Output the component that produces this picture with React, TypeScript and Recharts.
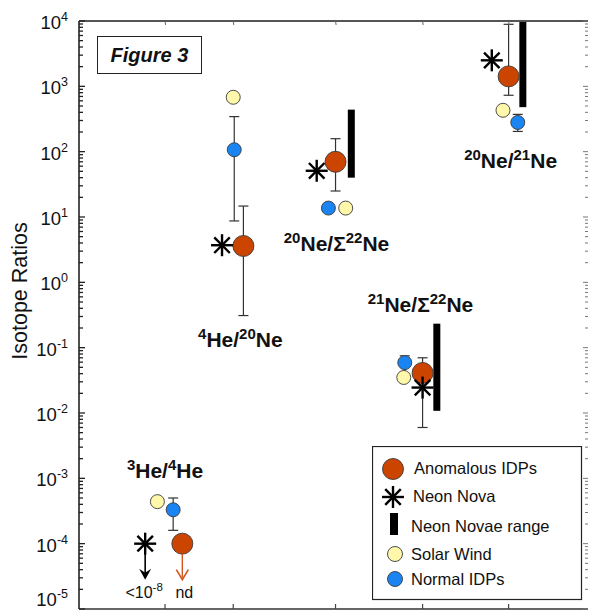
import React from 'react';
import { ScatterChart, Scatter, XAxis, YAxis, ErrorBar, Legend } from 'recharts';

const FONT = '"Liberation Sans", Arial, Helvetica, sans-serif';

// ---------- data ----------
const ratioNames = ['3He/4He', '4He/20Ne', '20Ne/Σ22Ne', '21Ne/Σ22Ne', '20Ne/21Ne'];
const categoryTicks = [16.9, 30.3, 50.4, 67.5, 84.4];
const decadeExponents = [-5, -4, -3, -2, -1, 0, 1, 2, 3, 4];

const anomalousIDPs = [
  { ratio: '3He/4He', x: 20.3, y: 1.0e-4 },
  { ratio: '4He/20Ne', x: 32.3, y: 3.6, lo: 0.31, hi: 14.7 },
  { ratio: '20Ne/Σ22Ne', x: 50.4, y: 70, lo: 25, hi: 158 },
  { ratio: '21Ne/Σ22Ne', x: 67.5, y: 0.041, lo: 0.006, hi: 0.07 },
  { ratio: '20Ne/21Ne', x: 84.4, y: 1420, lo: 730, hi: 8900 },
];

const neonNova = [
  { ratio: '3He/4He', x: 13.0, y: 1.0e-4 },
  { ratio: '4He/20Ne', x: 28.1, y: 3.7 },
  { ratio: '20Ne/Σ22Ne', x: 46.7, y: 51 },
  { ratio: '21Ne/Σ22Ne', x: 67.5, y: 0.0245 },
  { ratio: '20Ne/21Ne', x: 81.1, y: 2500 },
];

const neonNovaeRange = [
  { ratio: '20Ne/Σ22Ne', x: 53.5, lo: 40, hi: 440 },
  { ratio: '21Ne/Σ22Ne', x: 70.3, lo: 0.0108, hi: 0.233 },
  { ratio: '20Ne/21Ne', x: 87.2, lo: 480, hi: 9800 },
];

const solarWind = [
  { ratio: '3He/4He', x: 15.4, y: 4.4e-4 },
  { ratio: '4He/20Ne', x: 30.3, y: 680 },
  { ratio: '20Ne/Σ22Ne', x: 52.4, y: 13.7 },
  { ratio: '21Ne/Σ22Ne', x: 63.8, y: 0.035 },
  { ratio: '20Ne/21Ne', x: 83.3, y: 430 },
];

const normalIDPs = [
  { ratio: '3He/4He', x: 18.5, y: 3.3e-4, lo: 1.6e-4, hi: 5.0e-4 },
  { ratio: '4He/20Ne', x: 30.5, y: 107, lo: 8.7, hi: 344 },
  { ratio: '20Ne/Σ22Ne', x: 49.0, y: 13.7 },
  { ratio: '21Ne/Σ22Ne', x: 64.0, y: 0.059, lo: 0.035, hi: 0.075 },
  { ratio: '20Ne/21Ne', x: 86.2, y: 280, lo: 204, hi: 372 },
];

// 3He/4He upper limits (arrows)
const upperLimits = [
  { ratio: '3He/4He', x: 13.0, y: 1.0e-4, source: 'nova' },
  { ratio: '3He/4He', x: 20.3, y: 1.0e-4, source: 'idp' },
];

// text annotations: segments [text, isSuperscript]
const annotations = [
  { x: 16.9, y: 1.0e-3, bold: true, segs: [['3', true], ['He/', false], ['4', true], ['He', false]] },
  { x: 31.7, y: 0.103, bold: true, segs: [['4', true], ['He/', false], ['20', true], ['Ne', false]] },
  { x: 50.6, y: 3.0, bold: true, segs: [['20', true], ['Ne/Σ', false], ['22', true], ['Ne', false]] },
  { x: 67.1, y: 0.356, bold: true, segs: [['21', true], ['Ne/Σ', false], ['22', true], ['Ne', false]] },
  { x: 84.8, y: 57, bold: true, segs: [['20', true], ['Ne/', false], ['21', true], ['Ne', false]] },
  { x: 12.8, y: 1.49e-5, bold: false, segs: [['<10', false], ['-8', true]] },
  { x: 20.7, y: 1.49e-5, bold: false, segs: [['nd', false]] },
];

const legendItems = ['Anomalous IDPs', 'Neon Nova', 'Neon Novae range', 'Solar Wind', 'Normal IDPs'];

// ---------- derived ----------
const withErr = (arr: any[]) =>
  arr.map((d) => ({ ...d, err: d.lo != null ? [d.y - d.lo, d.hi - d.y] : undefined }));
const rangeData = neonNovaeRange.map((d) => {
  const y = Math.sqrt(d.lo * d.hi);
  return { ...d, y, err: [y - d.lo, d.hi - y] };
});
const yTicks: number[] = [];
decadeExponents.forEach((e) => {
  yTicks.push(Math.pow(10, e));
  if (e < decadeExponents[decadeExponents.length - 1]) {
    for (let m = 2; m <= 9; m++) yTicks.push(m * Math.pow(10, e));
  }
});
const minExp = decadeExponents[0];

// ---------- styles ----------
const ORANGE = '#CC4500';
const BLUE = '#1A84F2';
const YELLOW = '#FFF8AA';

const isMajor = (v: number) => {
  const lg = Math.log10(v);
  return Math.abs(lg - Math.round(lg)) < 1e-6;
};

const LeftTick = (props: any) => {
  const { x, y, payload } = props;
  const v = payload.value;
  const major = isMajor(v);
  const exp = Math.round(Math.log10(v));
  const baseline = exp === minExp ? y - 3 : y + 8;
  return (
    <g>
      <line x1={x} x2={x + (major ? 6 : 4)} y1={y} y2={y} stroke="#222" strokeWidth={1.3} />
      {major && (
        <text x={x - 11} y={baseline} textAnchor="end" fontFamily={FONT} fontSize={18.5} fill="#111">
          <tspan>10</tspan>
          <tspan dy={-8} fontSize={12.5}>{String(exp)}</tspan>
        </text>
      )}
    </g>
  );
};

const RightTick = (props: any) => {
  const { x, y, payload } = props;
  const major = isMajor(payload.value);
  return <line x1={x - (major ? 5 : 3)} x2={x} y1={y} y2={y} stroke="#777" strokeWidth={1} />;
};

const BottomTick = (props: any) => {
  const { x, y } = props;
  return <line x1={x} x2={x} y1={y} y2={y - 5} stroke="#444" strokeWidth={1.2} />;
};

const TopTick = (props: any) => {
  const { x, y } = props;
  return <line x1={x} x2={x + 0.6} y1={y} y2={y + 4} stroke="#666" strokeWidth={1} />;
};

const makeCircle = (r: number, fill: string) => (props: any) => {
  const { cx, cy } = props;
  if (cx == null || cy == null) return <g />;
  return <circle cx={cx} cy={cy} r={r} fill={fill} stroke="#3a3a3a" strokeWidth={0.9} />;
};

const Star = ({ cx, cy, r = 11 }: any) => {
  const d = r * Math.SQRT1_2;
  return (
    <g stroke="#000" strokeWidth={2.4}>
      <line x1={cx - r} y1={cy} x2={cx + r} y2={cy} />
      <line x1={cx} y1={cy - r} x2={cx} y2={cy + r} />
      <line x1={cx - d} y1={cy - d} x2={cx + d} y2={cy + d} />
      <line x1={cx - d} y1={cy + d} x2={cx + d} y2={cy - d} />
    </g>
  );
};

const StarShape = (props: any) => {
  const { cx, cy } = props;
  if (cx == null || cy == null) return <g />;
  return <Star cx={cx} cy={cy} />;
};

const EmptyShape = () => <g />;

const ArrowShape = (props: any) => {
  const { cx, cy, payload } = props;
  const nova = payload && payload.source === 'nova';
  const color = nova ? '#000' : '#D2561E';
  const start = nova ? cy : cy + 10;
  const tip = cy + 36;
  return (
    <g>
      <line x1={cx} x2={cx} y1={start} y2={tip - 2} stroke={color} strokeWidth={nova ? 1.6 : 1.4} />
      {nova ? (
        <path d={`M ${cx - 6} ${tip - 11} L ${cx} ${tip} L ${cx + 6} ${tip - 11} L ${cx} ${tip - 7} Z`} fill="#000" />
      ) : (
        <path d={`M ${cx - 6} ${tip - 10} L ${cx} ${tip} L ${cx + 6} ${tip - 10}`} fill="none" stroke={color} strokeWidth={1.6} />
      )}
    </g>
  );
};

const AnnotationShape = (props: any) => {
  const { cx, cy, payload } = props;
  if (!payload) return <g />;
  const bold = payload.bold;
  const main = bold ? 21 : 16;
  const sup = bold ? 15 : 11.5;
  const rise = bold ? 8 : 7;
  let cur = 0;
  const spans = payload.segs.map((s: any, i: number) => {
    const target = s[1] ? -rise : 0;
    const dy = target - cur;
    cur = target;
    return (
      <tspan key={i} dy={dy} fontSize={s[1] ? sup : main}>
        {s[0]}
      </tspan>
    );
  });
  return (
    <text x={cx} y={cy} textAnchor="middle" fontFamily={FONT} fontWeight={bold ? 'bold' : 'normal'} fill="#111">
      {spans}
    </text>
  );
};

const AxisTitle = (props: any) => {
  const vb = props.viewBox || { x: 78, y: 21, width: 1, height: 588 };
  const x = vb.x + vb.width - 59;
  const y = vb.y + vb.height / 2 - 24;
  return (
    <text x={x} y={y} transform={`rotate(-90, ${x}, ${y})`} textAnchor="middle" dominantBaseline="central" fontFamily={FONT} fontSize={21.5} fill="#111">
      Isotope Ratios
    </text>
  );
};

const LegendBox = () => {
  const rows = [28, 56, 86, 114, 139];
  return (
    <svg width={211} height={155} style={{ display: 'block' }}>
      <rect x={0.5} y={0.5} width={209} height={153} fill="#fff" stroke="#222" strokeWidth={1.2} />
      <circle cx={21} cy={23} r={10.5} fill={ORANGE} stroke="#3a3a3a" strokeWidth={0.9} />
      <Star cx={21} cy={51} r={11} />
      <rect x={18} y={67} width={8} height={22} fill="#000" />
      <circle cx={23} cy={108} r={7.5} fill={YELLOW} stroke="#3a3a3a" strokeWidth={0.9} />
      <circle cx={23} cy={133} r={7.5} fill={BLUE} stroke="#3a3a3a" strokeWidth={0.9} />
      {legendItems.map((t, i) => (
        <text key={t} x={i === 0 ? 42 : i === 1 ? 41 : 39} y={rows[i]} fontFamily={FONT} fontSize={16.5} fill="#111">
          {t}
        </text>
      ))}
    </svg>
  );
};

export default function App() {
  return (
    <div style={{ position: 'absolute', left: 0, top: 0, width: 590, height: 612, background: '#fff' }}>
      <ScatterChart width={590} height={612} margin={{ top: 20, right: 1, bottom: 2, left: 78 }}>
        <XAxis
          type="number"
          dataKey="x"
          xAxisId={0}
          orientation="bottom"
          domain={[0, 100]}
          ticks={categoryTicks}
          interval={0}
          allowDataOverflow
          height={1}
          tickSize={0}
          tickMargin={0}
          tick={<BottomTick />}
          axisLine={{ stroke: '#333', strokeWidth: 1.6 }}
        />
        <XAxis
          type="number"
          dataKey="x"
          xAxisId="top"
          orientation="top"
          domain={[0, 100]}
          ticks={categoryTicks}
          interval={0}
          allowDataOverflow
          height={1}
          tickSize={0}
          tickMargin={0}
          tick={<TopTick />}
          axisLine={{ stroke: '#555', strokeWidth: 2 }}
        />
        <YAxis
          type="number"
          dataKey="y"
          yAxisId={0}
          scale="log"
          domain={[1e-5, 1e4]}
          ticks={yTicks}
          interval={0}
          allowDataOverflow
          width={1}
          tickSize={0}
          tickMargin={0}
          tick={<LeftTick />}
          axisLine={{ stroke: '#222', strokeWidth: 1.6 }}
          label={<AxisTitle />}
        />
        <YAxis
          type="number"
          dataKey="y"
          yAxisId="right"
          orientation="right"
          scale="log"
          domain={[1e-5, 1e4]}
          ticks={yTicks}
          interval={0}
          allowDataOverflow
          width={1}
          tickSize={0}
          tickMargin={0}
          tick={<RightTick />}
          axisLine={false}
        />
        <Scatter name="Neon Novae range" data={rangeData} shape={EmptyShape} isAnimationActive={false}>
          <ErrorBar dataKey="err" direction="y" width={0} stroke="#000" strokeWidth={7} />
        </Scatter>
        <Scatter name="Solar Wind" data={withErr(solarWind)} shape={makeCircle(7, YELLOW)} isAnimationActive={false} />
        <Scatter name="Normal IDPs" data={withErr(normalIDPs)} shape={makeCircle(7, BLUE)} isAnimationActive={false}>
          <ErrorBar dataKey="err" direction="y" width={5} stroke="#333" strokeWidth={1.2} />
        </Scatter>
        <Scatter name="Anomalous IDPs" data={withErr(anomalousIDPs)} shape={makeCircle(10.5, ORANGE)} isAnimationActive={false}>
          <ErrorBar dataKey="err" direction="y" width={5} stroke="#333" strokeWidth={1.2} />
        </Scatter>
        <Scatter name="Upper limits" data={upperLimits} shape={ArrowShape} isAnimationActive={false} />
        <Scatter name="Neon Nova" data={neonNova} shape={StarShape} isAnimationActive={false} />
        <Scatter name="labels" data={annotations} shape={AnnotationShape} isAnimationActive={false} />
        <Legend
          layout="vertical"
          align="center"
          verticalAlign="middle"
          wrapperStyle={{ left: 372, top: 446, width: 211, height: 155 }}
          content={() => <LegendBox />}
        />
      </ScatterChart>
      <div
        style={{
          position: 'absolute',
          left: 97,
          top: 36,
          width: 103,
          height: 36,
          border: '1.3px solid #222',
          fontFamily: FONT,
          fontWeight: 'bold',
          fontStyle: 'italic',
          fontSize: 20,
          lineHeight: '36px',
          textAlign: 'center',
          color: '#111',
          background: '#fff',
        }}
      >
        Figure 3
      </div>
    </div>
  );
}
